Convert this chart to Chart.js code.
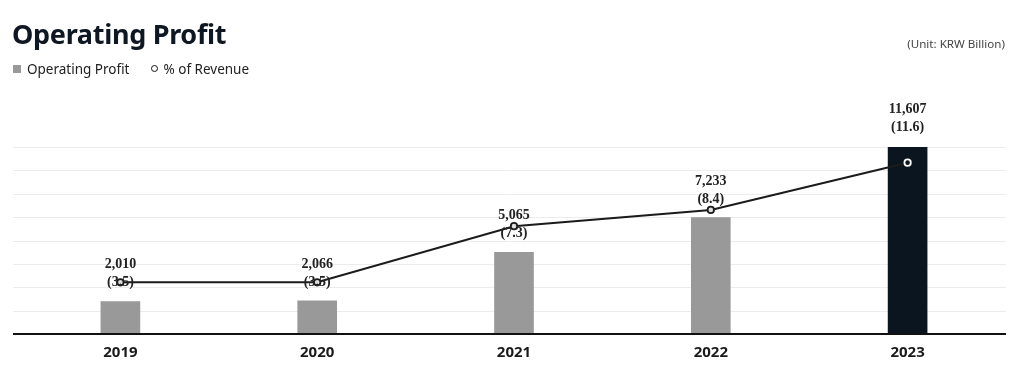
<!DOCTYPE html>
<html>
<head>
<meta charset="utf-8">
<script src="https://cdn.jsdelivr.net/npm/chart.js@4.4.0/dist/chart.umd.min.js"></script>
<style>
  html, body { margin: 0; padding: 0; background: #fff; }
  #wrap { position: relative; width: 1022px; height: 389px; overflow: hidden; font-family: "Noto Sans", sans-serif; }
  #title { position: absolute; left: 12px; top: 14px; font-size: 27px; font-weight: 700; color: #0f1722; line-height: 40px; letter-spacing: -0.3px; }
  #unit { position: absolute; right: 17px; top: 36px; font-size: 11.6px; color: #444; line-height: 16px; }
  #legend { position: absolute; left: 13px; top: 60px; font-size: 13.5px; color: #222; line-height: 18px; white-space: nowrap; }
  #legend .sq { display: inline-block; width: 8px; height: 8px; background: #999; margin-right: 6px; vertical-align: 1px; }
  #legend .dot { display: inline-block; width: 5px; height: 5px; border: 1.6px solid #111; border-radius: 50%; margin: 0 6px 0 21px; vertical-align: 2px; }
  canvas { position: absolute; left: 0; top: 0; }
</style>
</head>
<body>
<div id="wrap">
  <canvas id="myChart" width="1022" height="389"></canvas>
  <div id="title">Operating Profit</div>
  <div id="unit">(Unit: KRW Billion)</div>
  <div id="legend"><span class="sq"></span>Operating Profit<span class="dot"></span>% of Revenue</div>
</div>
<script>
// data
var years = ["2019", "2020", "2021", "2022", "2023"];
var profit = [2010, 2066, 5065, 7233, 11607];
var margin = [3.5, 3.5, 7.3, 8.4, 11.6];
var profitLabels = ["2,010", "2,066", "5,065", "7,233", "11,607"];
var marginLabels = ["(3.5)", "(3.5)", "(7.3)", "(8.4)", "(11.6)"];

// label position relative to the line point (px, second line centre)
var labelShift = [0, 0, 7, -11, -35];

var barColors = ["#999999", "#999999", "#999999", "#999999", "#0b151f"];

// light grid that starts a bit left of the first category + dark baseline
var gridPlugin = {
    id: 'grid',
    beforeDatasetsDraw: function(chart) {
        var c = chart.ctx, area = chart.chartArea, y = chart.scales.y;
        c.save();
        c.strokeStyle = '#ececec';
        c.lineWidth = 1;
        for (var k = 1; k <= 8; k++) {
            var py = Math.round(y.getPixelForValue(y.max * k / 8)) + 0.5;
            c.beginPath();
            c.moveTo(13, py);
            c.lineTo(area.right, py);
            c.stroke();
        }
        c.restore();
    },
    afterDatasetsDraw: function(chart) {
        var c = chart.ctx, area = chart.chartArea;
        c.save();
        c.strokeStyle = '#111';
        c.lineWidth = 2;
        c.beginPath();
        c.moveTo(13, area.bottom);
        c.lineTo(area.right, area.bottom);
        c.stroke();
        c.restore();
    }
};

// value labels: "2,010" over "(3.5)"
var labelPlugin = {
    id: 'valueLabels',
    afterDatasetsDraw: function(chart) {
        var c = chart.ctx;
        var meta = chart.getDatasetMeta(1);
        c.save();
        c.font = 'bold 14px "Liberation Serif", serif';
        c.fillStyle = '#222';
        c.textAlign = 'center';
        c.textBaseline = 'middle';
        meta.data.forEach(function(pt, i) {
            var yb = chart.getDatasetMeta(0).data[i].y + labelShift[i];
            c.fillText(profitLabels[i], pt.x, yb - 18);
            c.fillText(marginLabels[i], pt.x, yb);
        });
        c.restore();
    }
};

var ctx = document.getElementById('myChart').getContext('2d');
var chart = new Chart(ctx, {
    data: {
        labels: years,
        datasets: [{
            type: 'line',
            label: '% of Revenue',
            data: margin,
            yAxisID: 'y1',
            borderColor: '#1b1b1b',
            borderWidth: 2,
            tension: 0,
            pointRadius: 3.2,
            pointBorderWidth: 1.8,
            pointBackgroundColor: ['#ddd', '#ddd', '#ddd', '#ddd', '#0b151f'],
            pointBorderColor: ['#1b1b1b', '#1b1b1b', '#1b1b1b', '#1b1b1b', '#ffffff'],
            order: 0
        }, {
            type: 'bar',
            label: 'Operating Profit',
            data: profit,
            yAxisID: 'y',
            backgroundColor: barColors,
            barThickness: 39,
            order: 1
        }]
    },
    options: {
        responsive: false,
        animation: false,
        layout: { padding: { left: 22, right: 16, top: 147, bottom: 25 } },
        plugins: { legend: { display: false }, tooltip: { enabled: false } },
        scales: {
            x: {
                offset: true,
                grid: { display: false },
                border: { display: false },
                ticks: {
                    padding: 2,
                    color: '#1a1a1a',
                    font: { family: '"Noto Sans", sans-serif', size: 15, weight: 'bold' }
                }
            },
            y: { display: false, min: 0, max: 11607 },
            y1: { display: false, min: 0, max: 12.66 }
        }
    },
    plugins: [gridPlugin, labelPlugin]
});
</script>
</body>
</html>
